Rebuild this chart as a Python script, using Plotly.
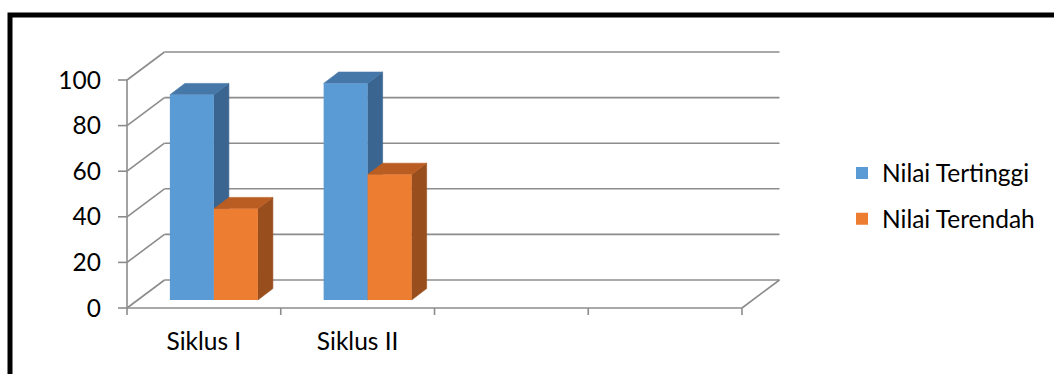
import plotly.graph_objects as go

# ---------------- data ----------------
categories = ["Siklus I", "Siklus II"]
n_slots = 4                      # category slots shown on the floor
series_names = ["Nilai Tertinggi", "Nilai Terendah"]
nilai_tertinggi = [90, 95]
nilai_terendah = [40, 55]
y_ticks = [0, 20, 40, 60, 80, 100]

# ---------------- geometry / style ----------------
W, H = 1054, 374
PX_CAT = 153.75      # px per category slot
PX_UNIT = 2.28       # px per value unit
X0_PX, Y0_PX = 127, 308   # pixel of front corner (x=0, y=0)
ML, MT, MB = 108, 48, 56
MR = W - 786

x_range = [-(X0_PX - ML) / PX_CAT, (W - MR - X0_PX) / PX_CAT]
y_range = [-(H - MB - Y0_PX) / PX_UNIT, (Y0_PX - MT) / PX_UNIT]

DX = 37.5 / PX_CAT        # wall depth offset (x units)
DY = 28.0 / PX_UNIT       # wall depth offset (y units)
BAR_SHIFT = 10 / PX_CAT
BAR_BASE = 8 / PX_UNIT
BAR_W = 44 / PX_CAT
BAR_DX = 15 / PX_CAT
BAR_DY = 11.4 / PX_UNIT
TICK_X = 9 / PX_CAT
TICK_Y = 7 / PX_UNIT

GRID = "#8c8c8c"
GRID_W = 1.6
FONT = "Lato"
FS = 24.5

colors_front = ["#5b9bd5", "#ed7d31"]
colors_top = ["#4677a9", "#b95d22"]
colors_side = ["#3a6591", "#994f1d"]

series_values = [nilai_tertinggi, nilai_terendah]
offsets = [-BAR_W, 0.0]

fig = go.Figure()
shapes = []


def line(x0, y0, x1, y1):
    shapes.append(dict(type="line", xref="x", yref="y", x0=x0, y0=y0, x1=x1, y1=y1,
                       line=dict(color=GRID, width=GRID_W), layer="below"))


def poly(pts, color):
    path = "M " + " L ".join(f"{px},{py}" for px, py in pts) + " Z"
    shapes.append(dict(type="path", xref="x", yref="y", path=path, fillcolor=color,
                       line=dict(color=color, width=0.6), layer="below"))


# walls / grid
for v in y_ticks:
    line(0, v, DX, v + DY)                 # left wall diagonal
    line(DX, v + DY, n_slots + DX, v + DY)  # back wall gridline
    line(-TICK_X, v, 0, v)                  # y tick
line(0, 0, 0, y_ticks[-1])                  # front value axis
line(0, 0, n_slots, 0)                      # front category axis
line(n_slots, 0, n_slots + DX, DY)          # floor right edge
for k in range(n_slots + 1):
    line(k, 0, k, -TICK_Y)                  # category ticks

# 3D faces of bars
for s, vals in enumerate(series_values):
    for i, v in enumerate(vals):
        xc = i + 0.5 + BAR_SHIFT
        x0 = xc + offsets[s]
        x1 = x0 + BAR_W
        top = BAR_BASE + v
        # side face
        poly([(x1, BAR_BASE), (x1, top), (x1 + BAR_DX, top + BAR_DY), (x1 + BAR_DX, BAR_BASE + BAR_DY)],
             colors_side[s])
        # top face
        poly([(x0, top), (x1, top), (x1 + BAR_DX, top + BAR_DY), (x0 + BAR_DX, top + BAR_DY)],
             colors_top[s])

# front faces of bars
for s, vals in enumerate(series_values):
    fig.add_trace(go.Bar(
        name=series_names[s],
        x=[i + 0.5 + BAR_SHIFT for i in range(len(categories))],
        y=vals,
        base=BAR_BASE,
        width=BAR_W,
        offset=offsets[s],
        marker=dict(color=colors_front[s], line=dict(width=0)),
        legendgroup=series_names[s],
    ))

# frame (paper coords)
pw = W - ML - MR
ph = H - MT - MB
def px2paper_x(p):
    return (p - ML) / pw
def px2paper_y(p):
    return (H - MB - p) / ph
shapes.append(dict(type="rect", xref="paper", yref="paper",
                   x0=px2paper_x(10), x1=px2paper_x(1070),
                   y0=px2paper_y(400), y1=px2paper_y(15),
                   line=dict(color="black", width=5), fillcolor="rgba(0,0,0,0)", layer="above"))

fig.update_layout(
    width=W, height=H,
    margin=dict(l=ML, r=MR, t=MT, b=MB, pad=0),
    paper_bgcolor="white", plot_bgcolor="white",
    barmode="overlay",
    shapes=shapes,
    font=dict(family=FONT, size=FS, color="black"),
    showlegend=True,
    legend=dict(x=px2paper_x(842), y=px2paper_y(196), xanchor="left", yanchor="middle",
                traceorder="grouped", tracegroupgap=11,
                font=dict(family=FONT, size=FS, color="black"),
                bgcolor="rgba(0,0,0,0)"),
    xaxis=dict(range=x_range, showgrid=False, zeroline=False, showline=False,
               tickmode="array", tickvals=[i + 0.5 for i in range(len(categories))],
               ticktext=categories, ticks="", ticklabelstandoff=6,
               tickfont=dict(family=FONT, size=FS, color="black"), fixedrange=True),
    yaxis=dict(range=y_range, showgrid=False, zeroline=False, showline=False,
               tickmode="array", tickvals=y_ticks, ticks="", ticklabelstandoff=6,
               tickfont=dict(family=FONT, size=FS, color="black"), fixedrange=True),
)

fig.write_html("out.html")
